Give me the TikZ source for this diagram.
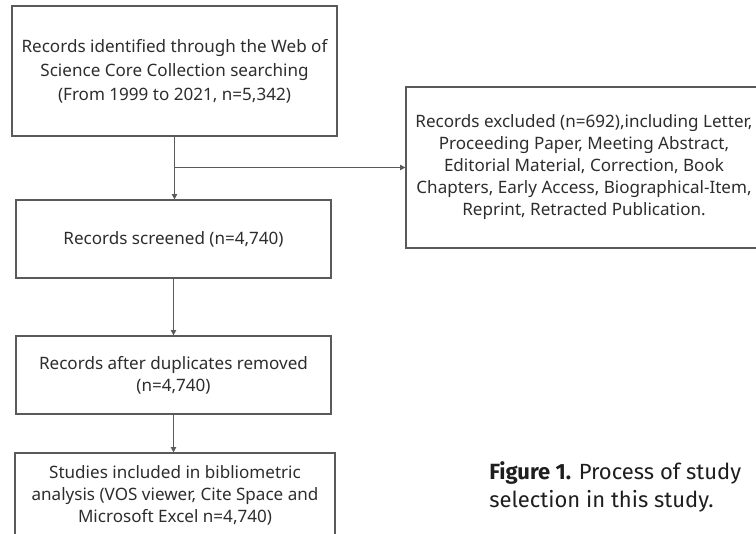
\documentclass[tikz,border=0pt]{standalone}
\usepackage{fontspec}
\setmainfont{Noto Sans}
\newfontfamily\capfont{Fira Sans}
\usetikzlibrary{arrows.meta, positioning, calc}
\definecolor{linegray}{RGB}{90, 90, 90}
\definecolor{boxtext}{RGB}{45, 45, 45}
\definecolor{captext}{RGB}{30, 30, 30}

\begin{document}
\begin{tikzpicture}[
          x=0.75pt, y=-0.75pt,
          box/.style={rectangle, draw=linegray, line width=0.9pt,
                      align=center, inner sep=0pt, text=boxtext,
                      font=\fontsize{12.8}{16.5}\selectfont},
          flow/.style={-{Triangle[length=4pt, width=4pt]},
                       draw=linegray, line width=0.9pt},
      ]
      \useasboundingbox (0,0) rectangle (756,533);
      \clip (0,0) rectangle (756,533);
      % boxes of the flow
      \node[box, minimum width=243.75pt, minimum height=97.5pt,
            font=\fontsize{12.8}{18}\selectfont] (found)
          at (174.5, 71) {Records identified through the Web of\\
          Science Core Collection searching\\
          (From 1999 to 2021, n=5,342)};
      \node[box, minimum width=267pt, minimum height=120.75pt] (excl)
          at (584, 167.5) {Records excluded (n=692),including Letter,\\
          Proceeding Paper, Meeting Abstract,\\
          Editorial Material, Correction, Book\\
          Chapters, Early Access, Biographical-Item,\\
          Reprint, Retracted Publication.};
      \node[box, minimum width=236.25pt, minimum height=58.5pt] (screen)
          at (173.5, 239) {Records screened (n=4,740)};
      \node[box, minimum width=236.25pt, minimum height=58.5pt] (dupl)
          at (173.5, 375) {Records after duplicates removed\\
          (n=4,740)};
      \node[box, minimum width=240pt, minimum height=63pt] (incl)
          at (175, 495) {Studies included in bibliometric\\
          analysis (VOS viewer, Cite Space and\\
          Microsoft Excel n=4,740)};
      % connectors
      \coordinate (split) at (found.south |- excl.west);
      \draw[flow] (found.south) -- (found.south |- screen.north);
      \draw[flow] (split) -- (excl.west);
      \draw[flow] (screen.south) -- (dupl.north);
      \draw[flow] (dupl.south) -- (dupl.south |- incl.north);
      % caption
      \node[anchor=west, align=left, inner sep=0pt, text=captext,
            font=\capfont\fontsize{16.5}{20.5}\selectfont] (cap)
          at (489, 487) {\textbf{Figure 1.} Process of study\\
          selection in this study.};
      \end{tikzpicture}
\end{document}
